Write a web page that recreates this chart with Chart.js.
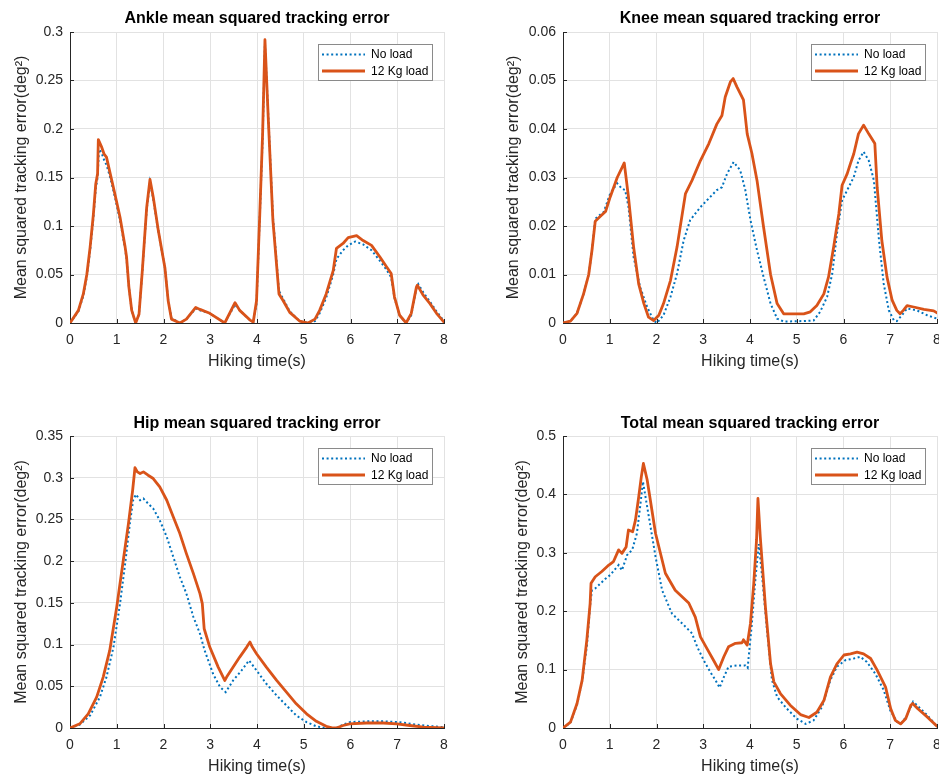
<!DOCTYPE html>
<html>
<head>
<meta charset="utf-8">
<script src="https://cdn.jsdelivr.net/npm/chart.js@4"></script>
<style>
html,body{margin:0;padding:0;background:#fff;overflow:hidden;width:939px;height:776px;position:relative}
.p{position:absolute;overflow:visible}
canvas{display:block}
</style>
</head>
<body>
<div class="p" style="left:0;top:0"><canvas id="c1"></canvas></div>
<div class="p" style="left:470px;top:0"><canvas id="c2"></canvas></div>
<div class="p" style="left:0;top:388px"><canvas id="c3"></canvas></div>
<div class="p" style="left:470px;top:388px"><canvas id="c4"></canvas></div>
<script>
// ---------------- data ----------------
const seriesLabels = ['No load', '12 Kg load'];
const chartTitles = ['Ankle mean squared tracking error', 'Knee mean squared tracking error',
                     'Hip mean squared tracking error', 'Total mean squared tracking error'];
const xAxisTitle = 'Hiking time(s)';
const yAxisTitle = 'Mean squared tracking error(deg\u00B2)';

const timeTicks = [0, 1, 2, 3, 4, 5, 6, 7, 8];
const timeTickLabels = ['0', '1', '2', '3', '4', '5', '6', '7', '8'];

const ankleTicks = [0, 0.05, 0.1, 0.15, 0.2, 0.25, 0.3];
const ankleTickLabels = ['0', '0.05', '0.1', '0.15', '0.2', '0.25', '0.3'];
const kneeTicks = [0, 0.01, 0.02, 0.03, 0.04, 0.05, 0.06];
const kneeTickLabels = ['0', '0.01', '0.02', '0.03', '0.04', '0.05', '0.06'];
const hipTicks = [0, 0.05, 0.1, 0.15, 0.2, 0.25, 0.3, 0.35];
const hipTickLabels = ['0', '0.05', '0.1', '0.15', '0.2', '0.25', '0.3', '0.35'];
const totalTicks = [0, 0.1, 0.2, 0.3, 0.4, 0.5];
const totalTickLabels = ['0', '0.1', '0.2', '0.3', '0.4', '0.5'];

// Ankle
const ankleNoLoadT = [0,0.18,0.285,0.36,0.43,0.5,0.55,0.59,0.62,0.67,0.73,0.78,0.86,0.96,1.07,1.18,1.21,1.26,1.32,1.405,1.476,1.547,1.64,1.711,1.78,1.89,2.03,2.1,2.17,2.35,2.49,2.69,2.78,2.99,3.31,3.53,3.63,3.85,3.92,3.99,4.06,4.12,4.17,4.24,4.34,4.47,4.56,4.7,4.91,5.09,5.24,5.34,5.48,5.63,5.7,5.84,5.95,6.1,6.27,6.45,6.63,6.77,6.87,6.94,7.05,7.19,7.3,7.41,7.45,7.55,7.7,7.84,8.0];
const ankleNoLoad  = [0,0.012,0.028,0.048,0.075,0.108,0.138,0.15,0.179,0.176,0.168,0.163,0.15,0.13,0.106,0.076,0.066,0.037,0.013,0,0.009,0.053,0.117,0.145,0.128,0.094,0.057,0.024,0.005,0,0.004,0.015,0.013,0.01,0,0.019,0.013,0.003,0.001,0.02,0.11,0.19,0.288,0.215,0.11,0.033,0.025,0.012,0.002,0,0.002,0.01,0.026,0.05,0.066,0.075,0.08,0.084,0.081,0.075,0.064,0.055,0.047,0.026,0.008,0,0.008,0.036,0.04,0.032,0.022,0.012,0.002];
const ankleLoadT = [0,0.18,0.285,0.36,0.43,0.5,0.55,0.59,0.606,0.68,0.73,0.78,0.86,0.96,1.07,1.18,1.21,1.26,1.32,1.405,1.476,1.547,1.64,1.711,1.78,1.89,2.03,2.1,2.17,2.35,2.49,2.69,2.78,2.99,3.31,3.53,3.63,3.85,3.92,3.99,4.06,4.12,4.17,4.24,4.34,4.47,4.56,4.7,4.91,5.09,5.24,5.34,5.48,5.63,5.7,5.84,5.95,6.13,6.27,6.45,6.63,6.77,6.87,6.94,7.05,7.19,7.3,7.41,7.43,7.55,7.7,7.84,8.0];
const ankleLoad  = [0,0.013,0.03,0.05,0.078,0.112,0.143,0.154,0.189,0.181,0.174,0.171,0.154,0.133,0.109,0.078,0.068,0.037,0.013,0,0.009,0.054,0.119,0.148,0.13,0.095,0.057,0.023,0.004,0,0.004,0.016,0.014,0.01,0,0.021,0.013,0.003,0.001,0.023,0.113,0.195,0.292,0.212,0.106,0.03,0.023,0.011,0.002,0,0.004,0.013,0.03,0.054,0.077,0.082,0.088,0.09,0.085,0.08,0.068,0.058,0.051,0.027,0.008,0,0.01,0.037,0.039,0.029,0.02,0.01,0.001];

// Knee
const kneeNoLoadT = [0,0.16,0.3,0.44,0.55,0.62,0.69,0.87,1.01,1.16,1.26,1.33,1.4,1.51,1.65,1.8,1.94,2.01,2.15,2.3,2.44,2.58,2.72,2.94,3.08,3.29,3.4,3.51,3.65,3.79,3.9,4.01,4.15,4.29,4.44,4.58,4.72,5.15,5.36,5.5,5.65,5.76,5.86,5.97,6.08,6.22,6.32,6.43,6.54,6.65,6.76,6.86,6.97,7.08,7.14,7.25,7.36,7.57,7.79,8.0];
const kneeNoLoad  = [0,0.0004,0.002,0.006,0.01,0.015,0.0215,0.0229,0.0267,0.0288,0.0277,0.0274,0.024,0.0136,0.0074,0.0033,0.0005,0,0.0016,0.0054,0.0102,0.017,0.0212,0.0239,0.0253,0.0274,0.028,0.0308,0.0332,0.0315,0.0274,0.0212,0.015,0.0095,0.004,0.0009,0.0003,0.0004,0.0005,0.0023,0.0054,0.0102,0.0184,0.0253,0.0274,0.0301,0.0335,0.0353,0.0335,0.0294,0.017,0.0081,0.0026,0.0005,0.0004,0.0016,0.003,0.0026,0.0016,0.0009];
const kneeLoadT = [0,0.16,0.3,0.44,0.55,0.62,0.69,0.8,0.91,1.01,1.16,1.26,1.31,1.4,1.51,1.62,1.73,1.83,1.94,2.05,2.15,2.3,2.44,2.62,2.76,2.94,3.12,3.29,3.4,3.47,3.58,3.64,3.72,3.86,3.94,4.04,4.15,4.29,4.44,4.58,4.72,4.86,5.15,5.29,5.43,5.58,5.68,5.79,5.9,5.97,6.08,6.15,6.22,6.32,6.43,6.54,6.67,6.72,6.82,6.93,7.04,7.14,7.21,7.28,7.36,7.5,7.72,7.93,8.0];
const kneeLoad  = [0,0.0004,0.002,0.006,0.01,0.015,0.021,0.022,0.023,0.026,0.03,0.032,0.033,0.026,0.0157,0.008,0.004,0.0012,0.0005,0.0016,0.004,0.0088,0.0157,0.0267,0.0294,0.0335,0.037,0.041,0.0428,0.0466,0.0497,0.0504,0.0487,0.046,0.039,0.035,0.0294,0.0198,0.01,0.004,0.0019,0.0019,0.0019,0.0023,0.0036,0.006,0.0095,0.0157,0.0225,0.0284,0.0308,0.0329,0.0349,0.039,0.0408,0.039,0.037,0.028,0.017,0.0095,0.0047,0.0026,0.0019,0.0026,0.0036,0.0033,0.0028,0.0025,0.0021];

// Hip
const hipNoLoadT = [0,0.21,0.43,0.64,0.78,0.93,1.07,1.18,1.28,1.35,1.41,1.5,1.57,1.67,1.78,1.92,2.07,2.21,2.35,2.49,2.64,2.78,2.88,3.06,3.21,3.33,3.49,3.67,3.83,3.99,4.2,4.42,4.63,4.84,5.06,5.27,5.48,5.7,5.84,5.98,6.34,6.7,7.06,7.41,7.77,8.0];
const hipNoLoad  = [0,0.004,0.015,0.037,0.061,0.097,0.149,0.197,0.245,0.273,0.28,0.273,0.275,0.269,0.263,0.249,0.229,0.205,0.181,0.161,0.133,0.113,0.093,0.065,0.049,0.043,0.057,0.069,0.081,0.069,0.053,0.039,0.027,0.015,0.007,0.002,0,0,0.004,0.007,0.008,0.008,0.007,0.004,0.002,0.001];
const hipLoadT = [0,0.21,0.39,0.57,0.71,0.85,1.0,1.14,1.25,1.34,1.39,1.44,1.5,1.57,1.67,1.78,1.92,2.07,2.21,2.35,2.49,2.64,2.78,2.83,2.87,2.99,3.17,3.31,3.35,3.49,3.63,3.78,3.85,3.9,3.99,4.2,4.42,4.63,4.84,5.06,5.27,5.48,5.63,5.7,5.84,5.98,6.34,6.7,6.99,7.27,7.56,8.0];
const hipLoad  = [0,0.005,0.017,0.037,0.061,0.093,0.145,0.201,0.245,0.285,0.312,0.307,0.305,0.307,0.303,0.299,0.289,0.273,0.253,0.233,0.209,0.185,0.161,0.149,0.119,0.097,0.073,0.057,0.061,0.073,0.085,0.097,0.103,0.097,0.089,0.073,0.057,0.043,0.029,0.017,0.008,0.002,0,0,0.003,0.005,0.006,0.006,0.005,0.003,0.001,0];

// Total
const totalNoLoadT = [0,0.16,0.3,0.41,0.51,0.58,0.62,0.69,0.9,1.01,1.19,1.26,1.37,1.48,1.58,1.65,1.71,1.8,1.98,2.12,2.33,2.55,2.76,2.87,3.01,3.15,3.26,3.35,3.44,3.54,3.72,3.9,3.95,4.04,4.12,4.19,4.26,4.37,4.47,4.58,4.79,5.0,5.19,5.36,5.54,5.72,5.86,6.04,6.22,6.36,6.5,6.68,6.86,7.0,7.15,7.25,7.36,7.49,7.61,7.79,8.0];
const totalNoLoad  = [0,0.009,0.04,0.08,0.14,0.21,0.236,0.239,0.255,0.262,0.279,0.27,0.296,0.305,0.333,0.379,0.422,0.379,0.293,0.236,0.196,0.179,0.162,0.139,0.116,0.096,0.082,0.069,0.087,0.105,0.107,0.107,0.103,0.179,0.259,0.315,0.259,0.162,0.082,0.053,0.033,0.016,0.007,0.013,0.036,0.082,0.105,0.116,0.119,0.122,0.113,0.093,0.065,0.03,0.01,0.009,0.022,0.045,0.036,0.022,0.003];
const totalLoadT = [0,0.16,0.3,0.41,0.51,0.58,0.6,0.69,0.83,0.98,1.08,1.19,1.26,1.35,1.4,1.49,1.55,1.62,1.675,1.72,1.8,1.98,2.19,2.4,2.69,2.83,2.94,3.08,3.22,3.33,3.44,3.54,3.69,3.83,3.86,3.94,4.01,4.08,4.14,4.17,4.22,4.33,4.44,4.51,4.65,4.86,5.08,5.26,5.43,5.58,5.72,5.86,6.01,6.15,6.29,6.43,6.58,6.72,6.9,7.01,7.11,7.22,7.33,7.44,7.48,7.59,7.79,8.0];
const totalLoad  = [0,0.01,0.042,0.082,0.151,0.213,0.248,0.259,0.268,0.279,0.285,0.305,0.299,0.31,0.339,0.336,0.356,0.396,0.43,0.453,0.425,0.333,0.265,0.236,0.214,0.19,0.156,0.136,0.116,0.1,0.122,0.139,0.145,0.146,0.151,0.142,0.179,0.247,0.322,0.393,0.327,0.207,0.11,0.079,0.059,0.039,0.023,0.018,0.027,0.047,0.087,0.11,0.125,0.127,0.13,0.127,0.119,0.099,0.07,0.033,0.013,0.007,0.016,0.039,0.042,0.033,0.019,0.003];

// ---------------- styling / drawing ----------------
const FONT = '"Liberation Sans", Arial, Helvetica, sans-serif';
const AXIS_COLOR = '#262626';
const GRID_COLOR = '#e2e2e2';

function zip(t, v) { return t.map((x, i) => ({ x: x, y: v[i] })); }

const innerTicks = {
  id: 'innerTicks',
  beforeDatasetsDraw(chart) {
    const { ctx, chartArea: a, scales } = chart;
    ctx.save();
    ctx.strokeStyle = AXIS_COLOR;
    ctx.lineWidth = 1;
    ctx.beginPath();
    scales.x.ticks.forEach(t => {
      const px = Math.round(scales.x.getPixelForValue(t.value)) + 0.5;
      ctx.moveTo(px, a.bottom); ctx.lineTo(px, a.bottom - 4);
    });
    scales.y.ticks.forEach(t => {
      const py = Math.round(scales.y.getPixelForValue(t.value)) + 0.5;
      ctx.moveTo(a.left, py); ctx.lineTo(a.left + 4, py);
    });
    ctx.stroke();
    ctx.restore();
  }
};

const boxLegend = {
  id: 'boxLegend',
  afterDraw(chart) {
    const { ctx, chartArea: a } = chart;
    const w = 114, h = 36, m = 12;
    const x0 = Math.round(a.right - m - w), y0 = Math.round(a.top + m);
    ctx.save();
    ctx.fillStyle = '#fff';
    ctx.fillRect(x0, y0, w, h);
    ctx.strokeStyle = '#8a8a8a';
    ctx.lineWidth = 1;
    ctx.strokeRect(x0 + 0.5, y0 + 0.5, w, h);
    chart.data.datasets.forEach((ds, i) => {
      const y = y0 + 10.5 + i * 16.5;
      ctx.beginPath();
      ctx.setLineDash(ds.borderDash || []);
      ctx.strokeStyle = ds.borderColor;
      ctx.lineWidth = ds.borderWidth;
      ctx.moveTo(x0 + 4, y); ctx.lineTo(x0 + 47, y);
      ctx.stroke();
      ctx.setLineDash([]);
      ctx.fillStyle = '#000';
      ctx.font = '12px ' + FONT;
      ctx.textBaseline = 'middle';
      ctx.textAlign = 'left';
      ctx.fillText(ds.label, x0 + 53, y + 0.5);
    });
    ctx.restore();
  }
};

function makeChart(id, W, H, area, cfg) {
  const cv = document.getElementById(id);
  cv.width = W; cv.height = H;
  cv.style.width = W + 'px'; cv.style.height = H + 'px';
  const tickFont = { family: FONT, size: 14 };
  return new Chart(cv, {
    type: 'line',
    data: {
      datasets: [
        { label: seriesLabels[0], data: zip(cfg.t0, cfg.v0), borderColor: '#0072BD', borderWidth: 2,
          borderDash: [2, 2.6], order: 2, pointRadius: 0, tension: 0, fill: false },
        { label: seriesLabels[1], data: zip(cfg.t1, cfg.v1), borderColor: '#D95319', borderWidth: 2.8,
          order: 1, pointRadius: 0, tension: 0, fill: false, borderJoinStyle: 'round', borderCapStyle: 'round' }
      ]
    },
    options: {
      responsive: false, animation: false, devicePixelRatio: 1,
      layout: { autoPadding: false, padding: { left: 0, top: 0, right: W - area.r, bottom: 0 } },
      plugins: {
        legend: { display: false },
        tooltip: { enabled: false },
        title: { display: true, text: cfg.title, fullSize: false, color: '#000',
                 font: { family: FONT, size: 16, weight: 'bold', lineHeight: 1.2 },
                 padding: { top: area.tp, bottom: area.t - area.tp - 19.2 } }
      },
      scales: {
        x: {
          type: 'linear', min: 0, max: 8,
          afterFit: s => { s.height = H - area.b; },
          afterBuildTicks: s => { s.ticks = timeTicks.map(v => ({ value: v })); },
          ticks: { callback: (v, i) => timeTickLabels[i], font: tickFont, color: AXIS_COLOR, padding: 9,
                   maxRotation: 0, autoSkip: false },
          grid: { color: GRID_COLOR, drawTicks: false, lineWidth: 1 },
          border: { color: AXIS_COLOR, width: 1 },
          title: { display: true, text: xAxisTitle, color: AXIS_COLOR, font: { family: FONT, size: 16, lineHeight: 1.2 },
                   padding: { top: 0, bottom: area.xp } }
        },
        y: {
          type: 'linear', min: 0, max: cfg.yTicks[cfg.yTicks.length - 1],
          afterFit: s => { s.width = area.l; },
          afterBuildTicks: s => { s.ticks = cfg.yTicks.map(v => ({ value: v })); },
          ticks: { callback: (v, i) => cfg.yLabels[i], font: tickFont, color: AXIS_COLOR, padding: 7, autoSkip: false },
          grid: { color: GRID_COLOR, drawTicks: false, lineWidth: 1 },
          border: { color: AXIS_COLOR, width: 1 },
          title: { display: true, text: yAxisTitle, color: AXIS_COLOR, font: { family: FONT, size: 16, lineHeight: 1.2 },
                   padding: { top: area.yp, bottom: 0 } }
        }
      }
    },
    plugins: [innerTicks, boxLegend]
  });
}

makeChart('c1', 470, 388, { l: 70, r: 444, t: 32, b: 323, tp: 8.9, xp: 16.6, yp: 12.1 },
  { title: chartTitles[0], t0: ankleNoLoadT, v0: ankleNoLoad, t1: ankleLoadT, v1: ankleLoad,
    yTicks: ankleTicks, yLabels: ankleTickLabels });
makeChart('c2', 480, 388, { l: 93, r: 467, t: 32, b: 323, tp: 8.9, xp: 16.6, yp: 34.4 },
  { title: chartTitles[1], t0: kneeNoLoadT, v0: kneeNoLoad, t1: kneeLoadT, v1: kneeLoad,
    yTicks: kneeTicks, yLabels: kneeTickLabels });
makeChart('c3', 470, 388, { l: 70, r: 444, t: 48, b: 340, tp: 25.7, xp: 0, yp: 12.1 },
  { title: chartTitles[2], t0: hipNoLoadT, v0: hipNoLoad, t1: hipLoadT, v1: hipLoad,
    yTicks: hipTicks, yLabels: hipTickLabels });
makeChart('c4', 480, 388, { l: 93, r: 467, t: 48, b: 340, tp: 25.7, xp: 0, yp: 43.4 },
  { title: chartTitles[3], t0: totalNoLoadT, v0: totalNoLoad, t1: totalLoadT, v1: totalLoad,
    yTicks: totalTicks, yLabels: totalTickLabels });
</script>
</body>
</html>
